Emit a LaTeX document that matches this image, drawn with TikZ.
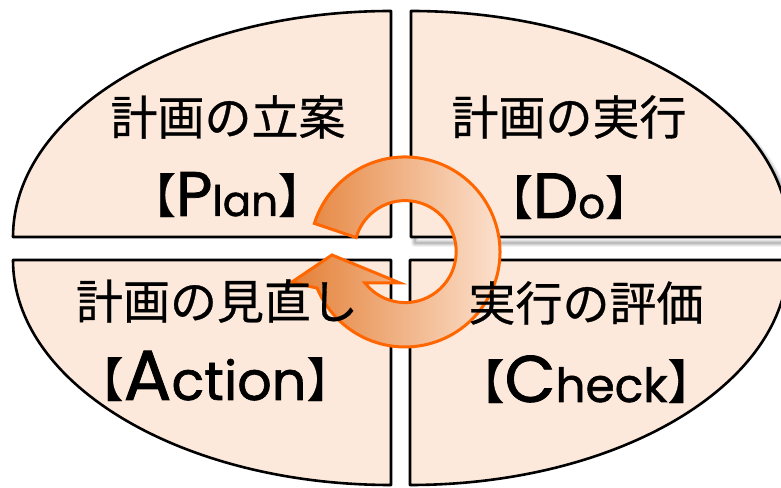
\documentclass[tikz,border=0pt]{standalone}
\usepackage{fontspec}
\newfontfamily\jpfont{Noto Sans CJK JP}[FakeBold=0.6]
\newfontfamily\latfont{Poppins}[FakeBold=1.2]
\definecolor{peach}{RGB}{252,233,219}
\definecolor{arrowline}{RGB}{255,102,0}
\definecolor{ordark}{RGB}{228,128,55}
\definecolor{ormid}{RGB}{248,200,165}
\definecolor{orlight}{RGB}{253,230,214}
\newcommand\jpsize{\jpfont\fontsize{47}{50}\selectfont}
\newcommand\pdcalbl[4]{{\jpsize\raisebox{3pt}{【}}{\latfont\fontsize{#2}{#2}\selectfont #1}{\latfont\fontsize{#4}{#4}\selectfont #3}{\jpsize\raisebox{3pt}{】}}}
\begin{document}
\begin{tikzpicture}[x=1pt,y=1pt,
  quad/.style={fill=peach, draw=black, line width=2.6pt, line join=round},
  shadowline/.style={draw=black, line join=round, shift={(4,-6)}},
  jptext/.style={font=\jpsize, inner sep=0pt},
  lattext/.style={inner sep=0pt, anchor=base},
  cyc/.style={draw=arrowline, line width=3pt, line join=miter, left color=ordark, middle color=ormid, right color=orlight}]
\useasboundingbox (0,0) rectangle (781,487);
\clip (0,0) rectangle (781,487);
% quadrants
\path[quad] (391,227) -- (13,227) arc[start angle=180, end angle=270, x radius=378, y radius=225] -- cycle;
\path[quad] (410,227) -- (788,227) arc[start angle=0, end angle=-90, x radius=378, y radius=225] -- cycle;
\path[quad] (391,250) -- (13,250) arc[start angle=180, end angle=90, x radius=378, y radius=226] -- cycle;
% shadow of the upper right quadrant
\foreach \w/\o in {8/0.05, 6/0.06, 4/0.08, 2/0.1}{
  \path[shadowline, line width=\w pt, draw opacity=\o] (411,250) -- (789,250) arc[start angle=0, end angle=90, x radius=378, y radius=226] -- (411,250) -- cycle;
}
\path[quad] (411,250) -- (789,250) arc[start angle=0, end angle=90, x radius=378, y radius=226] -- cycle;
% circular arrow
\path[cyc] (314.4,263.6) arc[start angle=162.5, end angle=-157.6, radius=95] -- (292,205) -- (332,232) -- (400,204) -- (365,204) arc[start angle=-142, end angle=164, radius=51] -- cycle;
% texts
\node[jptext] (planjp) at (228,370) {計画の立案};
\node[lattext] (planen) at (227,271) {\pdcalbl{P}{63}{lan}{42}};
\node[jptext] (dojp) at (569,370) {計画の実行};
\node[lattext] (doen) at (569,269) {\pdcalbl{D}{64}{o}{42}};
\node[jptext] (actjp) at (217,186) {計画の見直し};
\node[lattext] (acten) at (215,87) {\pdcalbl{A}{71}{ction}{54}};
\node[jptext] (chkjp) at (586,184) {実行の評価};
\node[lattext] (chken) at (586,85) {\pdcalbl{C}{66}{heck}{47}};
\end{tikzpicture}
\end{document}
